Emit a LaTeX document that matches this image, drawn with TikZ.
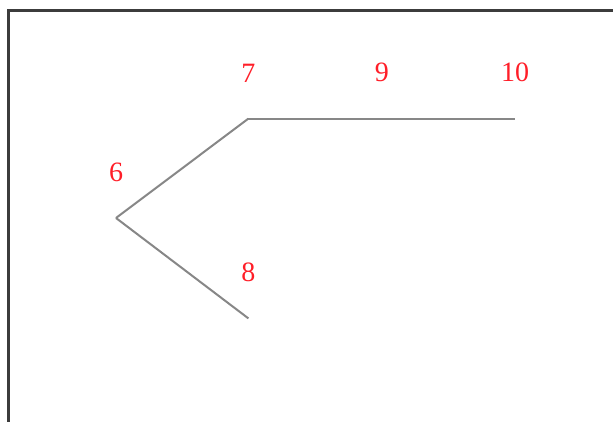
\documentclass[tikz,border=0pt]{standalone}
\usepackage{fontspec}
\setmainfont{Liberation Serif}
\usetikzlibrary{positioning}
\definecolor{lblred}{RGB}{255,30,40}
\definecolor{edgegray}{RGB}{135,135,135}
\definecolor{framegray}{RGB}{60,60,60}

\begin{document}
\begin{tikzpicture}[
      x=1pt, y=-1pt,
      node distance=99pt and 132pt,
      pt/.style={inner sep=0pt, minimum size=0pt, label={[lbl]above:#1}},
      lbl/.style={text=lblred, font=\fontsize{28}{30}\selectfont, inner sep=0pt, label distance=36pt},
      edge/.style={draw=edgegray, line width=2pt}
    ]
      \useasboundingbox (0,0) rectangle (613,422);
      % frame
      \draw[framegray, line width=3pt] (8,430) -- (8,11) -- (620,11);

      \node[pt=6] (n6) at (116,218) {};
      \node[pt=7, above right=99pt and 132pt of n6] (n7) {};
      \node[pt=9, right=133pt of n7] (n9) {};
      \node[pt=10, right=133pt of n9] (n10) {};
      \node[pt=8, below right=100pt and 132pt of n6] (n8) {};

      \draw[edge] (n6.center) -- (n7.center);
      \draw[edge] (n7.center) -- (n9.center);
      \draw[edge] (n9.center) -- (n10.center);
      \draw[edge] (n6.center) -- (n8.center);
    \end{tikzpicture}
\end{document}
